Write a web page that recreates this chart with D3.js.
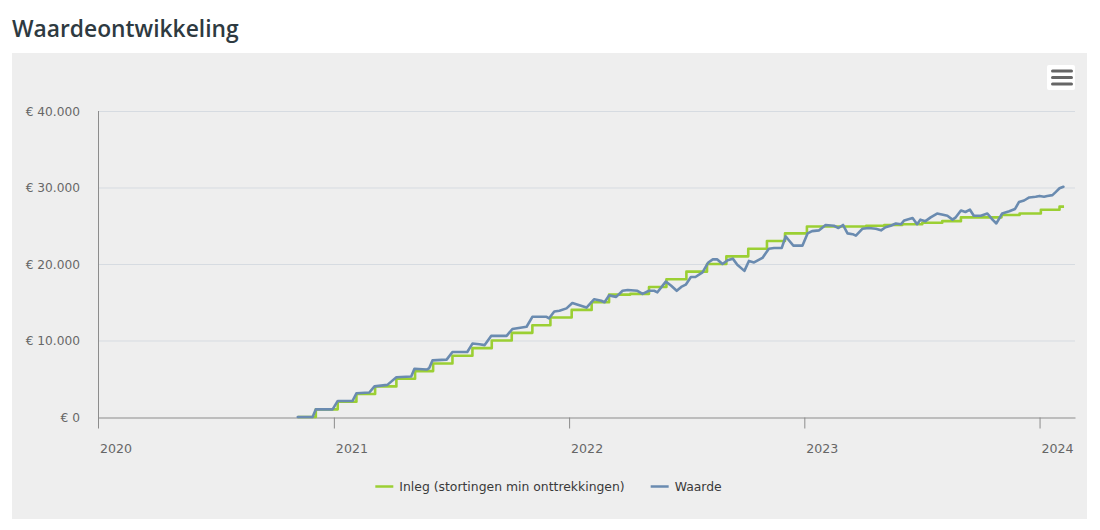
<!DOCTYPE html>
<html>
<head>
<meta charset="utf-8">
<script src="https://cdn.jsdelivr.net/npm/d3@7"></script>
<style>
  html, body { margin: 0; padding: 0; background: #ffffff; }
  svg { display: block; }
</style>
</head>
<body>
<svg id="chart" width="1100" height="530"></svg>
<script>
// ---------------- DATA ----------------
const chartTitle = "Waardeontwikkeling";
const seriesNames = ["Inleg (stortingen min onttrekkingen)", "Waarde"];
const seriesColors = ["#9bcf33", "#6a8bb0"];

const yTickValues = [0, 10000, 20000, 30000, 40000];
const xTickYears = ["2020", "2021", "2022", "2023", "2024"];
const xDomain = ["2020-01-01", "2024-02-25"];

// Inleg (step series): date of change and new level
const inlegDates = [
  "2020-11-06","2020-12-04","2021-01-07","2021-02-05","2021-03-06","2021-04-08",
  "2021-05-07","2021-06-04","2021-07-04","2021-08-04","2021-09-03","2021-10-04",
  "2021-11-05","2021-12-03","2022-01-05","2022-02-05","2022-03-04","2022-04-06",
  "2022-05-05","2022-06-01","2022-07-02","2022-08-03","2022-09-02","2022-10-06",
  "2022-11-04","2022-12-02","2023-01-05","2023-04-07","2023-05-05","2023-06-02",
  "2023-07-03","2023-08-03","2023-09-01","2023-11-03","2023-12-01","2024-01-03",
  "2024-02-01","2024-02-08"
];
const inlegValues = [
  0,1000,2000,3000,4000,5000,
  6000,7000,8000,9000,10000,11000,
  12000,13000,14000,15000,16000,16100,
  17000,18000,19000,20000,21000,22000,
  23000,24000,24900,25000,25100,25200,
  25400,25600,26100,26400,26600,27100,
  27500,27500
];

// Waarde (portfolio value)
const waardeDates = [
  "2020-11-06","2020-11-29","2020-12-04","2020-12-30","2021-01-07","2021-01-30",
  "2021-02-05","2021-02-25","2021-03-05","2021-03-25","2021-04-08","2021-05-01",
  "2021-05-06","2021-05-25","2021-05-29","2021-06-03","2021-06-25","2021-07-04",
  "2021-07-27","2021-08-04","2021-08-15","2021-08-23","2021-09-02","2021-09-26",
  "2021-10-05","2021-10-27","2021-11-05","2021-11-27","2021-12-01","2021-12-09",
  "2021-12-17","2021-12-28","2022-01-06","2022-01-17","2022-01-28","2022-02-09",
  "2022-02-20","2022-02-25","2022-03-04","2022-03-15","2022-03-25","2022-04-02",
  "2022-04-17","2022-04-25","2022-05-05","2022-05-13","2022-05-18","2022-05-31",
  "2022-06-08","2022-06-17","2022-06-24","2022-07-01","2022-07-09","2022-07-16",
  "2022-07-27","2022-08-05","2022-08-12","2022-08-19","2022-08-27","2022-09-04",
  "2022-09-12","2022-09-19","2022-09-30","2022-10-07","2022-10-15","2022-10-28",
  "2022-11-07","2022-11-15","2022-11-27","2022-12-03","2022-12-08","2022-12-15",
  "2022-12-29","2023-01-06","2023-01-13","2023-01-24","2023-02-03","2023-02-16",
  "2023-02-23","2023-03-02","2023-03-09","2023-03-17","2023-03-22","2023-04-01",
  "2023-04-11","2023-04-22","2023-04-30","2023-05-07","2023-05-15","2023-05-23",
  "2023-05-31","2023-06-05","2023-06-18","2023-06-25","2023-06-30","2023-07-08",
  "2023-07-16","2023-07-26","2023-08-06","2023-08-11","2023-08-19","2023-08-24",
  "2023-09-01","2023-09-08","2023-09-15","2023-09-21","2023-10-02","2023-10-12",
  "2023-10-20","2023-10-26","2023-11-04","2023-11-15","2023-11-24","2023-11-30",
  "2023-12-08","2023-12-16","2023-12-26","2024-01-01","2024-01-08","2024-01-13",
  "2024-01-21","2024-01-26","2024-02-01","2024-02-07"
];
const waardeValues = [
  0,0,1000,1000,2100,2100,
  3100,3200,4000,4200,5200,5300,
  6300,6200,6400,7400,7500,8500,
  8500,9600,9500,9400,10600,10600,
  11500,11800,13100,13100,12900,13800,
  13900,14200,14900,14600,14300,15400,
  15200,15000,15900,15700,16500,16600,
  16500,16100,16500,16500,16300,17700,
  17200,16500,17000,17300,18300,18300,
  18900,20200,20600,20600,20000,20500,
  20700,19900,19100,20400,20200,20800,
  22000,22100,22100,23600,23100,22400,
  22400,24000,24300,24400,25100,25000,
  24700,25100,24000,23900,23700,24600,
  24700,24600,24400,24800,25000,25300,
  25200,25700,26000,25200,25800,25600,
  26100,26600,26400,26300,25800,26100,
  27000,26800,27100,26300,26300,26600,
  25800,25300,26600,26900,27200,28100,
  28300,28700,28800,28900,28800,28900,
  29000,29400,29900,30100
];

// ---------------- CHART ----------------
const parse = d3.utcParse("%Y-%m-%d");
const parseYear = d3.utcParse("%Y");
const svg = d3.select("#chart");

const panel = { x: 12, y: 53, w: 1075, h: 466 };
const plot = { left: 98, right: 1075, top: 111, bottom: 417 };

// background panel
svg.append("rect")
  .attr("x", panel.x).attr("y", panel.y)
  .attr("width", panel.w).attr("height", panel.h)
  .attr("fill", "#eeeeee");

// title
svg.append("text")
  .attr("x", 12).attr("y", 37)
  .attr("font-family", "'Open Sans', sans-serif")
  .attr("font-weight", 600)
  .attr("font-size", 22.8)
  .attr("fill", "#2e3a41")
  .text(chartTitle);

// menu button
const menu = svg.append("g");
menu.append("rect")
  .attr("x", 1047).attr("y", 65).attr("width", 28).attr("height", 25)
  .attr("rx", 2).attr("fill", "#ffffff");
[71, 77.5, 84].forEach(yy => {
  menu.append("line")
    .attr("x1", 1052.5).attr("x2", 1071.5)
    .attr("y1", yy).attr("y2", yy)
    .attr("stroke", "#666666").attr("stroke-width", 3)
    .attr("stroke-linecap", "round");
});

const x = d3.scaleUtc()
  .domain(xDomain.map(parse))
  .range([plot.left, plot.right]);
const y = d3.scaleLinear()
  .domain([0, 40000])
  .range([plot.bottom, plot.top]);

const fmtNum = v => "€ " + d3.format(",")(v).replace(/,/g, ".");

// gridlines
svg.append("g")
  .selectAll("line")
  .data(yTickValues.filter(v => v > 0))
  .join("line")
  .attr("x1", plot.left).attr("x2", plot.right)
  .attr("y1", d => y(d) + 0.5).attr("y2", d => y(d) + 0.5)
  .attr("stroke", "#d6dbe1").attr("stroke-width", 1);

// y axis labels
const yAxis = d3.axisLeft(y)
  .tickValues(yTickValues)
  .tickSize(0)
  .tickPadding(0)
  .tickFormat(fmtNum);
const gy = svg.append("g")
  .attr("transform", `translate(80,0)`)
  .call(yAxis);
gy.select(".domain").remove();
gy.selectAll("text")
  .attr("font-family", "'DejaVu Sans', sans-serif")
  .attr("font-size", 12.2)
  .attr("fill", "#666666")
  .attr("dy", "0.36em");

// y axis line
svg.append("line")
  .attr("x1", plot.left + 0.5).attr("x2", plot.left + 0.5)
  .attr("y1", y(40000)).attr("y2", y(0) + 11)
  .attr("stroke", "#8c8c8c").attr("stroke-width", 1);

// x axis
const xAxis = d3.axisBottom(x)
  .tickValues(xTickYears.map(parseYear))
  .tickSize(11)
  .tickSizeOuter(0)
  .tickFormat(d3.utcFormat("%Y"));
const gx = svg.append("g")
  .attr("transform", `translate(0,${plot.bottom + 0.5})`)
  .call(xAxis);
gx.select(".domain").attr("stroke", "#8c8c8c");
gx.selectAll(".tick line").attr("stroke", "#8c8c8c");
gx.selectAll(".tick text")
  .attr("font-family", "'DejaVu Sans', sans-serif")
  .attr("font-size", 12.6)
  .attr("fill", "#666666")
  .attr("text-anchor", "start")
  .attr("x", 1.5)
  .attr("y", 35)
  .attr("dy", 0);

// series
const inleg = inlegDates.map((d, i) => ({ date: parse(d), value: inlegValues[i] }));
const waarde = waardeDates.map((d, i) => ({ date: parse(d), value: waardeValues[i] }));

svg.append("path")
  .datum(inleg)
  .attr("fill", "none")
  .attr("stroke", seriesColors[0])
  .attr("stroke-width", 2.6)
  .attr("stroke-linejoin", "round")
  .attr("d", d3.line().curve(d3.curveStepAfter).x(d => x(d.date)).y(d => y(d.value)));

svg.append("path")
  .datum(waarde)
  .attr("fill", "none")
  .attr("stroke", seriesColors[1])
  .attr("stroke-width", 2.6)
  .attr("stroke-linejoin", "round")
  .attr("stroke-linecap", "round")
  .attr("d", d3.line().x(d => x(d.date)).y(d => y(d.value)));

// legend
const legend = svg.append("g");
const items = legend.selectAll("g").data(seriesNames).join("g");
items.append("line")
  .attr("x1", 0).attr("x2", 18).attr("y1", 0).attr("y2", 0)
  .attr("stroke", (d, i) => seriesColors[i]).attr("stroke-width", 2.5);
items.append("text")
  .attr("x", 24).attr("y", 0).attr("dy", "0.35em")
  .attr("font-family", "'DejaVu Sans', sans-serif")
  .attr("font-size", 12.4)
  .attr("fill", "#3a3a3a")
  .text(d => d);
let offset = 0;
const gap = 26;
items.each(function () {
  const w = this.querySelector("text").getComputedTextLength() + 24;
  d3.select(this).attr("data-w", w);
});
items.attr("transform", function () {
  const w = +this.getAttribute("data-w");
  const t = `translate(${offset},0)`;
  offset += w + gap;
  return t;
});
const totalW = offset - gap;
legend.attr("transform", `translate(${548.5 - totalW / 2},486.5)`);
</script>
</body>
</html>
